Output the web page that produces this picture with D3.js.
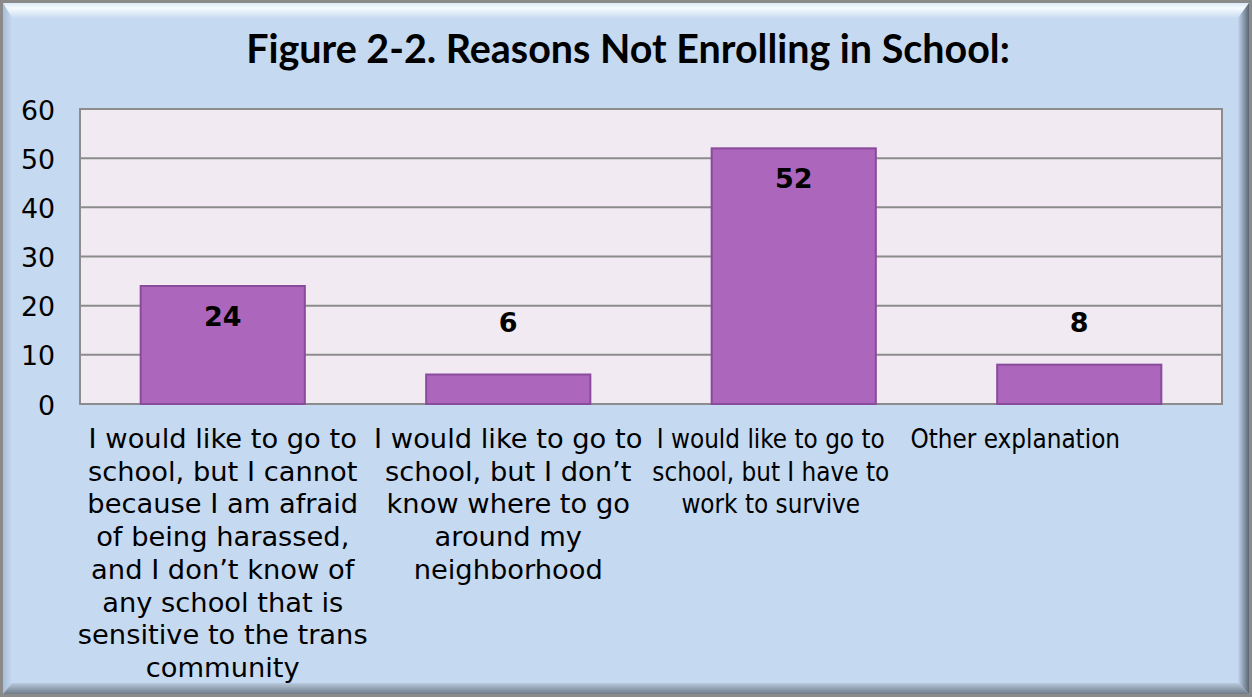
<!DOCTYPE html>
<html>
<head>
<meta charset="utf-8">
<script src="https://cdn.jsdelivr.net/npm/d3@7"></script>
<style>
  html, body { margin: 0; padding: 0; background: #ffffff; }
  svg { display: block; }
</style>
</head>
<body>
<svg id="chart" width="1252" height="697"></svg>
<script>
// ---- Data ----
const title = "Figure 2-2. Reasons Not Enrolling in School:";
const categories = [
  "I would like to go to\nschool, but I cannot\nbecause I am afraid\nof being harassed,\nand I don\u2019t know of\nany school that is\nsensitive to the trans\ncommunity",
  "I would like to go to\nschool, but I don\u2019t\nknow where to go\naround my\nneighborhood",
  "I would like to go to\nschool, but I have to\nwork to survive",
  "Other explanation"
];
const values = [24, 6, 52, 8];
const yTicks = [0, 10, 20, 30, 40, 50, 60];

// ---- Layout ----
const W = 1252, H = 697;
const plot = { left: 80, right: 1222, top: 109, bottom: 404 };
const svg = d3.select("#chart");
const defs = svg.append("defs");

function lin(id, x1, y1, x2, y2, stops) {
  const g = defs.append("linearGradient").attr("id", id)
    .attr("x1", x1).attr("y1", y1).attr("x2", x2).attr("y2", y2);
  stops.forEach(s => g.append("stop").attr("offset", s[0]).attr("stop-color", s[1]));
}
lin("gTop", 0, 0, 0, 1, [[0, "#dbe8f6"], [0.35, "#f6faff"], [1, "#c9dcf2"]]);
lin("gLeft", 0, 0, 1, 0, [[0, "#a8bdd6"], [1, "#c5d9f1"]]);
lin("gRight", 0, 0, 1, 0, [[0, "#c2d5ec"], [0.5, "#8d9db1"], [1, "#5a6572"]]);
lin("gBottom", 0, 0, 0, 1, [[0, "#b9cade"], [1, "#6f7b89"]]);

// Background frame
svg.append("rect").attr("x", 0).attr("y", 0).attr("width", W).attr("height", H).attr("fill", "#c5d9f1");
const o = 3, ix0 = 12, iy0 = 18, ix1 = 1238, iy1 = 683, ox1 = W - 3, oy1 = H - 3;
svg.append("polygon").attr("points", [[o,o],[ox1,o],[ix1,iy0],[ix0,iy0]].join(" ")).attr("fill", "url(#gTop)");
svg.append("polygon").attr("points", [[o,o],[ix0,iy0],[ix0,iy1],[o,oy1]].join(" ")).attr("fill", "url(#gLeft)");
svg.append("polygon").attr("points", [[ox1,o],[ox1,oy1],[ix1,iy1],[ix1,iy0]].join(" ")).attr("fill", "url(#gRight)");
svg.append("polygon").attr("points", [[o,oy1],[ix0,iy1],[ix1,iy1],[ox1,oy1]].join(" ")).attr("fill", "url(#gBottom)");
svg.append("rect").attr("x", 1.5).attr("y", 1.5).attr("width", W - 3).attr("height", H - 3)
  .attr("fill", "none").attr("stroke", "#8a8a8a").attr("stroke-width", 3);

// Title
const t = svg.append("text").attr("x", 628).attr("y", 63).attr("text-anchor", "middle")
  .attr("font-family", "Lato, 'Open Sans', sans-serif").attr("font-weight", "bold")
  .attr("font-size", 36).attr("fill", "#000").text(title);
const tw = t.node().getComputedTextLength();
t.attr("font-size", 36 * 764 / tw);

// Scales
const x = d3.scaleBand().domain(categories).range([plot.left, plot.right])
  .paddingInner(0.425).paddingOuter(0.2125);
const y = d3.scaleLinear().domain([0, 60]).range([plot.bottom, plot.top]);

// Plot area
svg.append("rect").attr("x", plot.left).attr("y", plot.top)
  .attr("width", plot.right - plot.left).attr("height", plot.bottom - plot.top)
  .attr("fill", "#f1eaf2");

// Gridlines
svg.append("g").selectAll("line").data(yTicks).join("line")
  .attr("x1", plot.left).attr("x2", plot.right)
  .attr("y1", d => y(d)).attr("y2", d => y(d))
  .attr("stroke", "#8c8c8c").attr("stroke-width", 2);

// Plot border
svg.append("rect").attr("x", plot.left).attr("y", plot.top)
  .attr("width", plot.right - plot.left).attr("height", plot.bottom - plot.top)
  .attr("fill", "none").attr("stroke", "#8c8c8c").attr("stroke-width", 2);

// Y axis labels
const yAxis = d3.axisLeft(y).tickValues(yTicks).tickSize(0).tickPadding(0);
const ya = svg.append("g").attr("transform", `translate(55,0)`).call(yAxis);
ya.select(".domain").remove();
ya.selectAll("text").attr("font-family", "'DejaVu Sans', Verdana, sans-serif")
  .attr("font-size", 26.8).attr("fill", "#000").attr("dy", null)
  .attr("y", 10).attr("x", 0).attr("text-anchor", "end");

// Bars
svg.append("g").selectAll("rect").data(values).join("rect")
  .attr("x", (d, i) => x(categories[i]))
  .attr("y", d => y(d))
  .attr("width", x.bandwidth())
  .attr("height", d => y(0) - y(d))
  .attr("fill", "#ac66bb").attr("stroke", "#8a4b9b").attr("stroke-width", 2);

// Value labels
svg.append("g").selectAll("text").data(values).join("text")
  .attr("x", (d, i) => x(categories[i]) + x.bandwidth() / 2)
  .attr("y", d => Math.min(y(d) + 40, y(14.6)))
  .attr("text-anchor", "middle")
  .attr("font-family", "'DejaVu Sans', Verdana, sans-serif").attr("font-weight", "bold")
  .attr("font-size", 27).attr("fill", "#000")
  .text(d => d);

// Category labels (the reference renders the last two labels narrower and shifted left)
const labelShift = [0, 0, -23, -64];
const labelFont = [
  ["'DejaVu Sans', Verdana, sans-serif", 27.3],
  ["'DejaVu Sans', Verdana, sans-serif", 27.3],
  ["'DejaVu Sans Condensed', 'DejaVu Sans', sans-serif", 25.8],
  ["'DejaVu Sans Condensed', 'DejaVu Sans', sans-serif", 25.8]
];
const lineH = 32.7;
const cg = svg.append("g");
categories.forEach((c, i) => {
  const cx = x(c) + x.bandwidth() / 2 + labelShift[i];
  const txt = cg.append("text").attr("text-anchor", "middle")
    .attr("font-family", labelFont[i][0])
    .attr("font-size", labelFont[i][1]).attr("fill", "#000");
  c.split("\n").forEach((ln, j) => {
    txt.append("tspan").attr("x", cx).attr("y", 448 + j * lineH).text(ln);
  });
});
</script>
</body>
</html>
